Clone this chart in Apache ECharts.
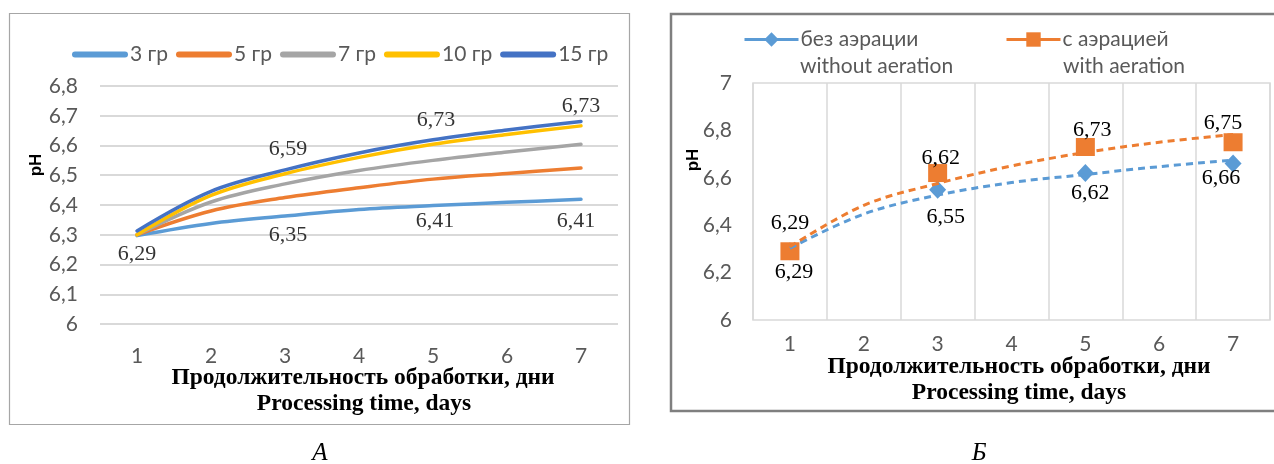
<!DOCTYPE html>
<html><head><meta charset="utf-8">
<script src="https://cdn.jsdelivr.net/npm/echarts/dist/echarts.min.js"></script>
<style>html,body{margin:0;padding:0;background:#fff}#c{width:1274px;height:464px}</style>
</head><body><div id="c"></div>
<script>
// ---------- shared ----------
const days = ['1', '2', '3', '4', '5', '6', '7'];

// ---------- Chart A: trend curves per group ----------
const gr3  = [6.297, 6.338, 6.363, 6.385, 6.398, 6.409, 6.419];
const gr5  = [6.300, 6.380, 6.425, 6.458, 6.487, 6.506, 6.524];
const gr7  = [6.300, 6.410, 6.471, 6.516, 6.550, 6.578, 6.604];
const gr10 = [6.300, 6.432, 6.505, 6.560, 6.604, 6.637, 6.666];
const gr15 = [6.313, 6.446, 6.518, 6.575, 6.619, 6.652, 6.681];
// measured values shown as labels
const meas3  = [6.29, null, 6.35, null, 6.41, null, 6.41];
const meas15 = [null, null, 6.59, null, 6.73, null, 6.73];

// ---------- Chart B ----------
const noAer      = [6.29, null, 6.55, null, 6.62, null, 6.66];
const withAer    = [6.29, null, 6.62, null, 6.73, null, 6.75];
const noAerTrend = [6.303, 6.447, 6.527, 6.580, 6.614, 6.647, 6.675];
const aerTrend   = [6.309, 6.484, 6.576, 6.650, 6.707, 6.750, 6.783];

const namesA = ['3 гр', '5 гр', '7 гр', '10 гр', '15 гр'];
const colorsA = ['#5B9BD5', '#ED7D31', '#A5A5A5', '#FFC000', '#4472C4'];

const comma = v => String(v).replace('.', ',');
const SANS = 'Lato';
const SERIF = 'Liberation Serif';
const TICK = '#595959';

// label offsets (style only)
const off3  = [[0, 16], null, [3, 15], null, [2, 19], null, [-5, 19]];
const off15 = [null, null, [3, 1], null, [3, 13], null, [0, -1]];
const offNo = [[4, 21], null, [8, 28], null, [5, 20], null, [-12, 15]];
const offAe = [[0, -28], null, [3, -15], null, [7, -17], null, [-10, -19]];

function labelSeries(vals, offs, xi, yi) {
  const data = [];
  vals.forEach((v, i) => {
    if (v == null) return;
    data.push({ value: [i, v], label: { offset: offs[i] } });
  });
  return {
    type: 'scatter', xAxisIndex: xi, yAxisIndex: yi, data,
    symbolSize: 1, itemStyle: { color: 'rgba(0,0,0,0)' }, silent: true, z: 10,
    label: { show: true, position: 'inside', color: '#000', fontFamily: SERIF, fontSize: 22,
      formatter: p => comma(p.value[1]) }
  };
}
function ptLabels(vals, offs) {
  return vals.map((v, i) => v == null ? null : {
    value: v, label: { show: true, position: 'inside', offset: offs[i], color: '#000',
      fontFamily: SERIF, fontSize: 22, formatter: p => comma(p.value) }
  });
}

const seriesA = [gr3, gr5, gr7, gr10, gr15].map((d, i) => ({
  name: namesA[i], type: 'line', xAxisIndex: 0, yAxisIndex: 0, data: d,
  smooth: 0.35, showSymbol: false, symbol: 'none',
  lineStyle: { width: 3.5, color: colorsA[i], cap: 'round' }, itemStyle: { color: colorsA[i] }, z: 3
}));

const option = {
  animation: false,
  backgroundColor: '#fff',
  grid: [
    { left: 100, top: 86, width: 518, height: 238, outerBoundsMode: 'none', containLabel: false },
    { left: 753, top: 83, width: 517, height: 237, outerBoundsMode: 'none', containLabel: false,
      show: true, borderColor: '#d9d9d9', borderWidth: 1.5, backgroundColor: 'rgba(0,0,0,0)' }
  ],
  legend: [
    { left: 72, top: 44, padding: 0, orient: 'horizontal', itemWidth: 56, itemHeight: 6, itemGap: 8,
      icon: 'path://M3,0 L53,0 A3,3 0 0 1 53,6 L3,6 A3,3 0 0 1 3,0 Z',
      textStyle: { color: TICK, fontFamily: SANS, fontSize: 21, padding: [0, 0, 0, -3] },
      data: namesA },
    { left: 743, top: 29, padding: 0, itemWidth: 54, itemHeight: 18,
      textStyle: { color: TICK, fontFamily: SANS, fontSize: 21, padding: [0, 0, 0, -3] },
      data: [{ name: 'без аэрации', lineStyle: { width: 3, opacity: 1, type: 'solid', color: '#5B9BD5' } }] },
    { left: 1005, top: 29, padding: 0, itemWidth: 54, itemHeight: 18,
      textStyle: { color: TICK, fontFamily: SANS, fontSize: 21, padding: [0, 0, 0, -3] },
      data: [{ name: 'с аэрацией', lineStyle: { width: 3, opacity: 1, type: 'solid', color: '#ED7D31' } }] }
  ],
  xAxis: [
    { type: 'category', gridIndex: 0, data: days, boundaryGap: true,
      axisLine: { show: false }, axisTick: { show: false }, splitLine: { show: false },
      axisLabel: { color: TICK, fontFamily: SANS, fontSize: 21, margin: 22 } },
    { type: 'category', gridIndex: 1, data: days, boundaryGap: true,
      axisLine: { show: false }, axisTick: { show: false },
      splitLine: { show: true, interval: 0, lineStyle: { color: '#d9d9d9', width: 1.5 } },
      axisLabel: { color: TICK, fontFamily: SANS, fontSize: 21, margin: 14 } }
  ],
  yAxis: [
    { type: 'value', gridIndex: 0, min: 6, max: 6.8, interval: 0.1,
      axisLine: { show: false }, axisTick: { show: false },
      splitLine: { show: true, lineStyle: { color: '#d9d9d9', width: 1.8 } },
      axisLabel: { color: TICK, fontFamily: SANS, fontSize: 21, margin: 22,
        formatter: v => comma(Math.round(v * 10) / 10) } },
    { type: 'value', gridIndex: 1, min: 6, max: 7, interval: 0.2,
      axisLine: { show: false }, axisTick: { show: false }, splitLine: { show: false },
      axisLabel: { color: TICK, fontFamily: SANS, fontSize: 21, margin: 21,
        formatter: v => comma(Math.round(v * 10) / 10) } }
  ],
  series: [
    ...seriesA,
    labelSeries(meas3, off3, 0, 0),
    labelSeries(meas15, off15, 0, 0),
    { name: 'без аэрации', type: 'line', xAxisIndex: 1, yAxisIndex: 1, data: ptLabels(noAer, offNo),
      symbol: 'diamond', symbolSize: [17, 18], showSymbol: true, connectNulls: false,
      lineStyle: { width: 0, opacity: 0, color: '#5B9BD5' }, itemStyle: { color: '#5B9BD5' }, z: 4 },
    { name: 'с аэрацией', type: 'line', xAxisIndex: 1, yAxisIndex: 1, data: ptLabels(withAer, offAe),
      symbol: 'rect', symbolSize: [19, 18], showSymbol: true, connectNulls: false,
      lineStyle: { width: 0, opacity: 0, color: '#ED7D31' }, itemStyle: { color: '#ED7D31' }, z: 5 },
    { name: 'trend-no', type: 'line', xAxisIndex: 1, yAxisIndex: 1, data: noAerTrend,
      smooth: 0.35, showSymbol: false, symbol: 'none',
      lineStyle: { width: 3, type: [7, 5], color: '#5B9BD5' }, z: 6 },
    { name: 'trend-ae', type: 'line', xAxisIndex: 1, yAxisIndex: 1, data: aerTrend,
      smooth: 0.35, showSymbol: false, symbol: 'none',
      lineStyle: { width: 3, type: [7, 5], color: '#ED7D31' }, z: 6 }
  ],
  graphic: [
    { type: 'rect', z: -10, shape: { x: 9.5, y: 13.5, width: 620, height: 411 },
      style: { fill: 'none', stroke: '#a6a6a6', lineWidth: 1.2 } },
    { type: 'rect', z: -10, shape: { x: 671, y: 14, width: 620, height: 397 },
      style: { fill: 'none', stroke: '#7f7f7f', lineWidth: 2.5 } },
    { type: 'text', x: 36, y: 165, rotation: Math.PI / 2,
      style: { text: 'pH', font: 'bold 17px "Liberation Sans"', fill: '#000', align: 'center', verticalAlign: 'middle' } },
    { type: 'text', x: 693, y: 160, rotation: Math.PI / 2,
      style: { text: 'pH', font: 'bold 17px "Liberation Sans"', fill: '#000', align: 'center', verticalAlign: 'middle' } },
    { type: 'text', x: 363, y: 378,
      style: { text: 'Продолжительность обработки, дни', font: 'bold 23.5px "Liberation Serif"', fill: '#000', align: 'center', verticalAlign: 'middle' } },
    { type: 'text', x: 364, y: 404,
      style: { text: 'Processing time, days', font: 'bold 23.5px "Liberation Serif"', fill: '#000', align: 'center', verticalAlign: 'middle' } },
    { type: 'text', x: 1019, y: 367,
      style: { text: 'Продолжительность обработки, дни', font: 'bold 23.5px "Liberation Serif"', fill: '#000', align: 'center', verticalAlign: 'middle' } },
    { type: 'text', x: 1019, y: 393,
      style: { text: 'Processing time, days', font: 'bold 23.5px "Liberation Serif"', fill: '#000', align: 'center', verticalAlign: 'middle' } },
    { type: 'text', x: 800, y: 66,
      style: { text: 'without aeration', font: '21px Lato', fill: TICK, align: 'left', verticalAlign: 'middle' } },
    { type: 'text', x: 1063, y: 66,
      style: { text: 'with aeration', font: '21px Lato', fill: TICK, align: 'left', verticalAlign: 'middle' } },
    { type: 'text', x: 320, y: 453,
      style: { text: 'А', font: 'italic 25px "Liberation Serif"', fill: '#000', align: 'center', verticalAlign: 'middle' } },
    { type: 'text', x: 979, y: 453,
      style: { text: 'Б', font: 'italic 25px "Liberation Serif"', fill: '#000', align: 'center', verticalAlign: 'middle' } }
  ]
};

const chart = echarts.init(document.getElementById('c'), null, { renderer: 'canvas' });
chart.setOption(option);
</script>
</body></html>
